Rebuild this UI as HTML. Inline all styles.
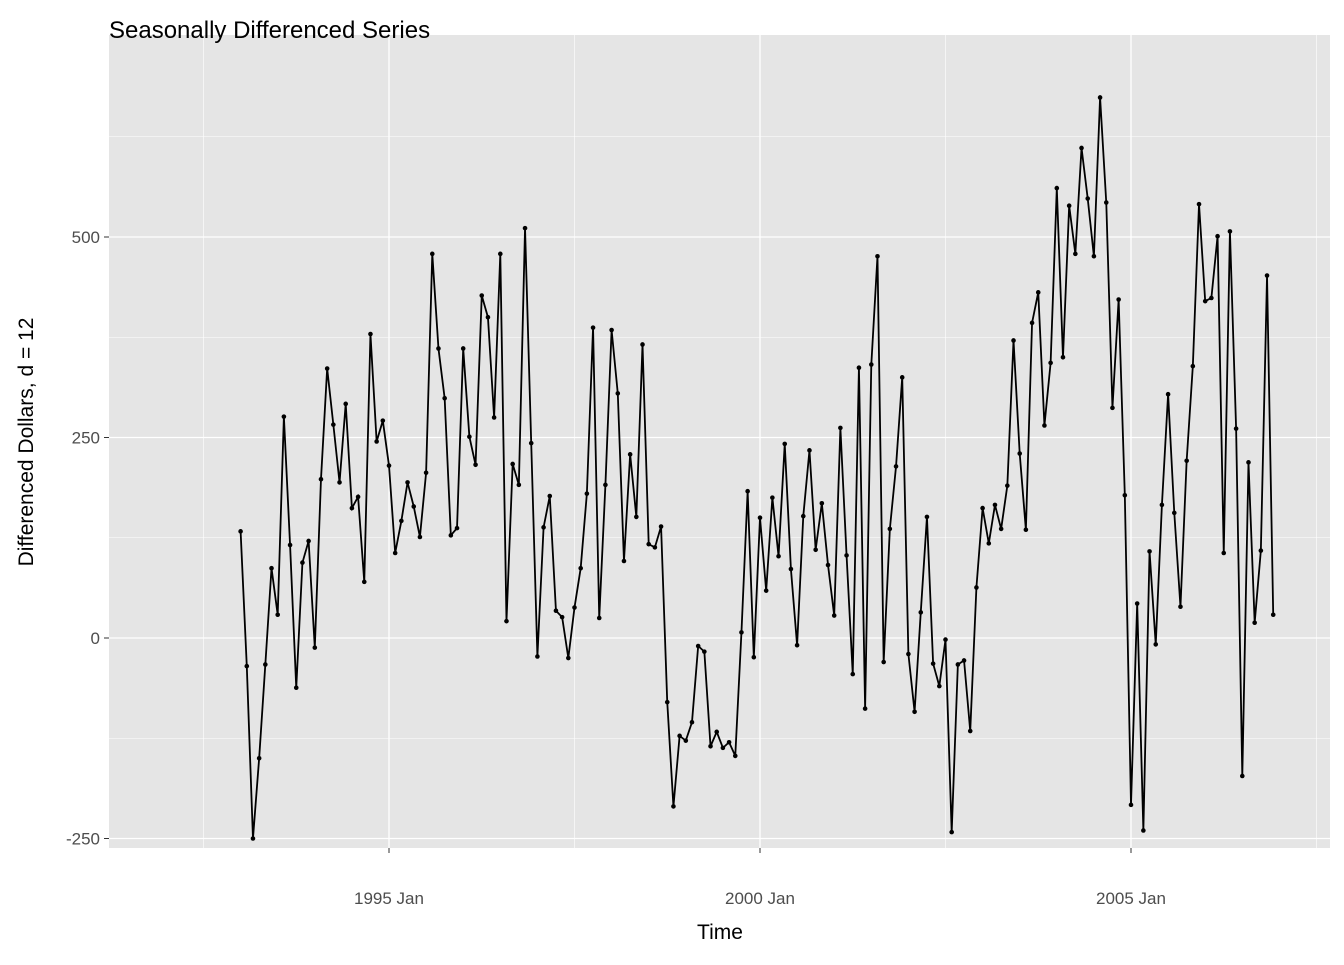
<!DOCTYPE html>
<html><head><meta charset="utf-8"><style>
body{margin:0;background:#fff;font-family:"Liberation Sans",Arial,sans-serif}
svg text{font-family:"Liberation Sans",Arial,sans-serif}
</style></head><body>
<svg id="chart" width="1344" height="960" xmlns="http://www.w3.org/2000/svg">
<rect x="109" y="35" width="1221" height="813" fill="#e5e5e5"/>
<g id="grid"></g><g id="series"></g><g id="axes"></g>
<text x="109" y="38" font-size="24" fill="#000">Seasonally Differenced Series</text>
<text x="720" y="939" font-size="21" text-anchor="middle" fill="#000">Time</text>
<text transform="translate(33,442) rotate(-90)" font-size="21" text-anchor="middle" fill="#000">Differenced Dollars, d = 12</text>
</svg>
<script>
const startYear = 1993;
const values = [
133,-35,-250,-150,-33,87,29,276,116,-62,94,121,
-12,198,336,266,194,292,162,176,70,379,245,271,
215,106,146,194,164,126,206,479,361,299,128,137,
361,251,216,427,400,275,479,21,217,191,511,243,
-23,138,177,34,26,-25,38,87,180,387,25,191,
384,305,96,229,151,366,117,113,139,-80,-210,-122,
-128,-105,-10,-17,-135,-117,-137,-130,-147,7,183,-24,
150,59,175,102,242,86,-9,152,234,110,168,91,
28,262,103,-45,337,-88,341,476,-30,136,214,325,
-20,-92,32,151,-32,-60,-2,-242,-33,-28,-116,63,
162,118,166,136,190,371,230,135,393,431,265,343,
561,350,539,479,611,548,476,674,543,287,422,178,
-208,43,-240,108,-8,166,304,156,39,221,339,541,
420,424,501,106,507,261,-172,219,19,109,452,29];
const yTicks = [-250,0,250,500];
const yMinor = [-125,125,375,625];
const xTicks = [1995,2000,2005];
const xTickLabels = ["1995 Jan","2000 Jan","2005 Jan"];
const xMinor = [1992.5,1997.5,2002.5,2007.5];

const NS="http://www.w3.org/2000/svg";
const X = t => 389 + (t-1995)*74.2;
const Y = v => 638 - v*0.802;
function mk(tag, attrs, parent){const e=document.createElementNS(NS,tag);for(const k in attrs)e.setAttribute(k,attrs[k]);parent.appendChild(e);return e;}
const grid=document.getElementById('grid'), series=document.getElementById('series'), axes=document.getElementById('axes');
yMinor.forEach(v=>{const l=mk('line',{x1:109,x2:1330,y1:Y(v),y2:Y(v),stroke:'#fff','stroke-width':0.6},grid);

});
xMinor.forEach(t=>{const l=mk('line',{x1:X(t),x2:X(t),y1:35,y2:848,stroke:'#fff','stroke-width':0.6},grid);

});
yTicks.forEach(v=>{const l=mk('line',{x1:109,x2:1330,y1:Y(v),y2:Y(v),stroke:'#fff','stroke-width':1.3},grid);


const tk=mk('line',{x1:104,x2:109,y1:Y(v),y2:Y(v),stroke:'#333','stroke-width':1},axes);


const t=mk('text',{x:100,y:Y(v)+6,'font-size':17,'text-anchor':'end',fill:'#4d4d4d'},axes);t.textContent=v;

});
xTicks.forEach((yr,i)=>{const l=mk('line',{x1:X(yr),x2:X(yr),y1:35,y2:848,stroke:'#fff','stroke-width':1.3},grid);


const tk=mk('line',{x1:X(yr),x2:X(yr),y1:848,y2:853,stroke:'#333','stroke-width':1},axes);


const t=mk('text',{x:X(yr),y:904,'font-size':17,'text-anchor':'middle',fill:'#4d4d4d'},axes);t.textContent=xTickLabels[i];

});
const pts=values.map((v,i)=>[X(startYear+i/12),Y(v)]);
const path=mk('polyline',{points:pts.map(p=>p.join(',')).join(' '),fill:'none',stroke:'#000','stroke-width':1.8},series);


pts.forEach(p=>{const c=mk('circle',{cx:p[0],cy:p[1],r:2.3,fill:'#000'},series);

});
</script>
</body></html>
